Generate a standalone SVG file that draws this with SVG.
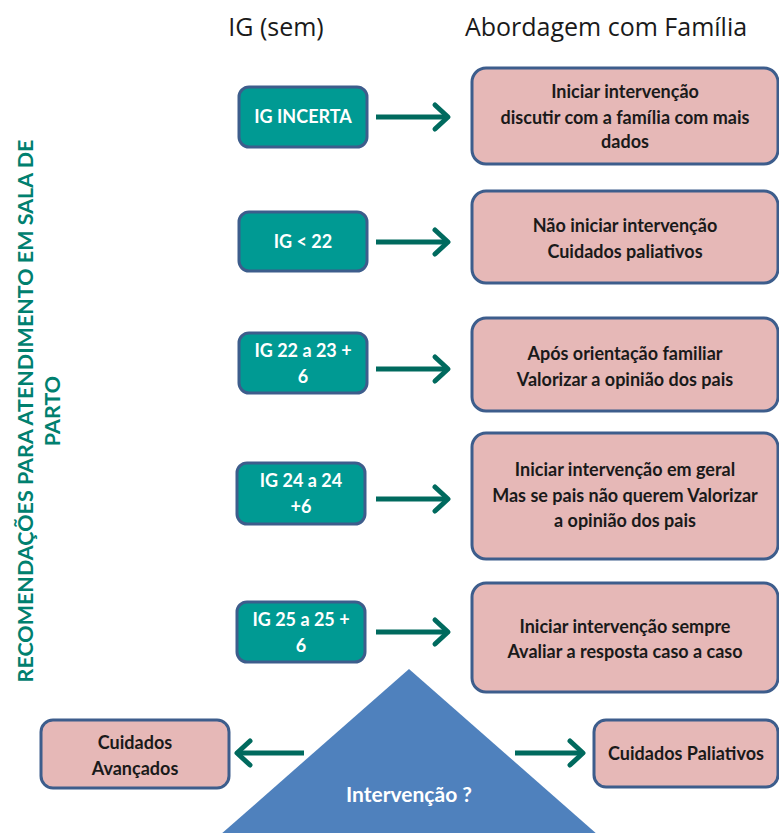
<svg xmlns="http://www.w3.org/2000/svg" width="779" height="833" viewBox="0 0 779 833">
<style>
text{font-family:Lato,"Open Sans","Liberation Sans",sans-serif;font-weight:bold;text-anchor:middle}
.hdr{font-size:25px;font-weight:normal;fill:#1a1a1a;font-family:"Open Sans",Lato,sans-serif}
.ig rect{fill:#009a93;stroke:#3d5d8c;stroke-width:3}
.ig text{fill:#ffffff;font-size:18px}
.pk rect{fill:#e6b8b7;stroke:#3d5d8c;stroke-width:3}
.pk text{fill:#1a1a1a;font-size:18px}
.vt{fill:#00806f;font-size:21.5px}
.con line{stroke:#006a5e;stroke-width:5;marker-end:url(#ah)}
</style>
<defs>
<marker id="ah" markerUnits="userSpaceOnUse" viewBox="-16 -16 20 32" refX="0" refY="0" markerWidth="20" markerHeight="32" orient="auto" overflow="visible">
<polyline points="-13,-12 0,0 -13,12" fill="none" stroke="#006a5e" stroke-width="5" stroke-linecap="round" stroke-linejoin="round"/>
</marker>
</defs>
<rect width="779" height="833" fill="#ffffff"/>
<text class="hdr" x="276" y="36">IG (sem)</text>
<text class="hdr" x="606" y="36">Abordagem com Família</text>
<g id="vertical-title">
<text class="vt" transform="translate(33,411) rotate(-90)">RECOMENDAÇÕES PARA ATENDIMENTO EM SALA DE</text>
<text class="vt" transform="translate(60,411) rotate(-90)">PARTO</text>
</g>
<g id="ig1" class="ig"><rect x="239" y="87" width="128" height="60" rx="10"/><text x="303" y="123">IG INCERTA</text></g>
<g id="ig2" class="ig"><rect x="239" y="212" width="128" height="59" rx="10"/><text x="303" y="248">IG &lt; 22</text></g>
<g id="ig3" class="ig"><rect x="239" y="333" width="128" height="60" rx="10"/><text x="303" y="357">IG 22 a 23 +</text><text x="303" y="383">6</text></g>
<g id="ig4" class="ig"><rect x="237" y="463" width="128" height="61" rx="10"/><text x="301" y="487">IG 24 a 24</text><text x="301" y="513">+6</text></g>
<g id="ig5" class="ig"><rect x="237" y="602" width="128" height="60" rx="10"/><text x="301" y="626">IG 25 a 25 +</text><text x="301" y="652">6</text></g>
<g id="ab1" class="pk"><rect x="472" y="68" width="306" height="96" rx="14"/><text x="625" y="98">Iniciar intervenção</text><text x="625" y="124">discutir com a família com mais</text><text x="625" y="148">dados</text></g>
<g id="ab2" class="pk"><rect x="472" y="191" width="306" height="92" rx="14"/><text x="625" y="232">Não iniciar intervenção</text><text x="625" y="258">Cuidados paliativos</text></g>
<g id="ab3" class="pk"><rect x="472" y="318" width="306" height="93" rx="14"/><text x="625" y="360">Após orientação familiar</text><text x="625" y="386">Valorizar a opinião dos pais</text></g>
<g id="ab4" class="pk"><rect x="472" y="433" width="306" height="126" rx="14"/><text x="625" y="476">Iniciar intervenção em geral</text><text x="625" y="502">Mas se pais não querem Valorizar</text><text x="625" y="527">a opinião dos pais</text></g>
<g id="ab5" class="pk"><rect x="472" y="583" width="306" height="109" rx="14"/><text x="625" y="633">Iniciar intervenção sempre</text><text x="625" y="658">Avaliar a resposta caso a caso</text></g>
<g id="triangle"><polygon points="409,669 220,835 598,835" fill="#4f81bd"/><text x="409" y="802" fill="#ffffff" style="font-size:21px">Intervenção ?</text></g>
<g id="cuid-avanc" class="pk"><rect x="41" y="720" width="188" height="68" rx="12"/><text x="135" y="749">Cuidados</text><text x="135" y="775">Avançados</text></g>
<g id="cuid-pal" class="pk"><rect x="594" y="720" width="184" height="67" rx="12"/><text x="686" y="760">Cuidados Paliativos</text></g>
<g id="connectors" class="con">
<line x1="376" y1="117" x2="448" y2="117"/>
<line x1="376" y1="242" x2="448" y2="242"/>
<line x1="376" y1="369" x2="448" y2="369"/>
<line x1="376" y1="499" x2="448" y2="499"/>
<line x1="376" y1="632" x2="448" y2="632"/>
<line x1="304" y1="753" x2="237" y2="753"/>
<line x1="515" y1="753" x2="583" y2="753"/>
</g>
</svg>
